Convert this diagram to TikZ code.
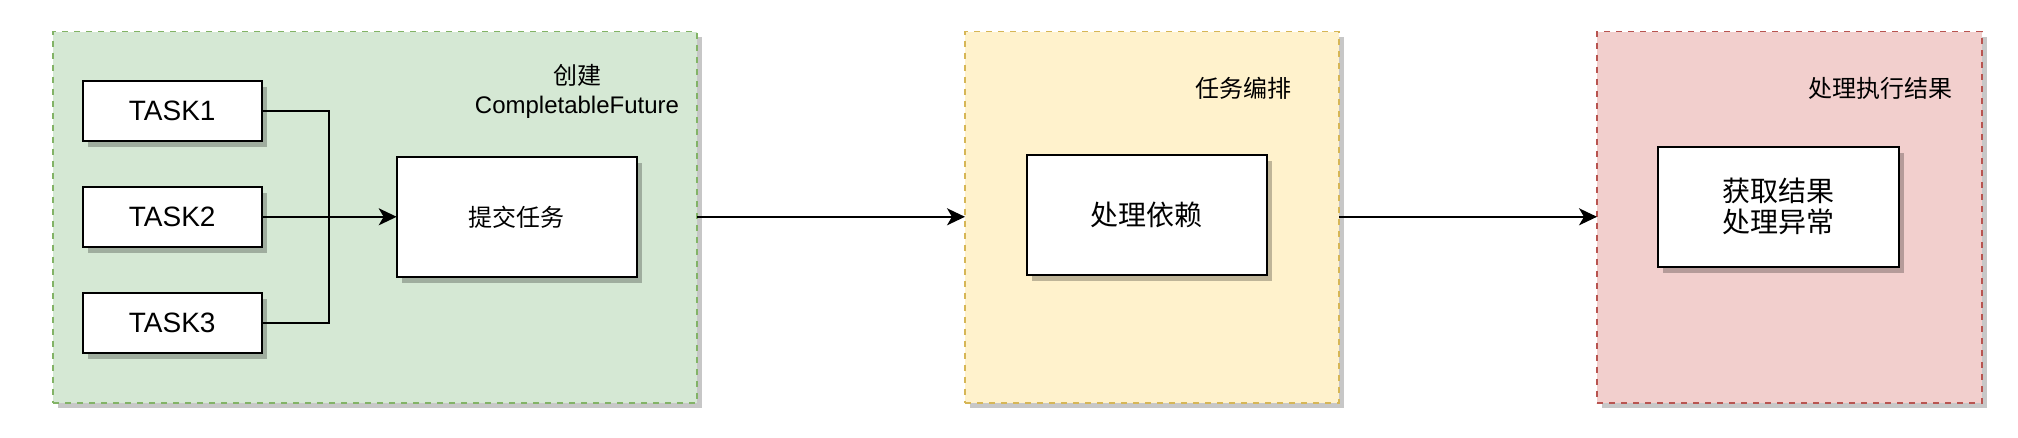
\documentclass[tikz,border=0pt]{standalone}
\usepackage{fontspec}
\setmainfont{Liberation Sans}
\newfontfamily\cjk{Noto Sans CJK SC}
\usetikzlibrary{arrows.meta,shadows}
\begin{document}
\begin{tikzpicture}[x=1pt,y=-1pt,
  container/.style={draw, line width=1.6pt, dash pattern=on 6pt off 6pt, inner sep=0pt, outer sep=0pt,
    drop shadow={shadow xshift=5pt, shadow yshift=-5pt, fill=black, opacity=0.22}},
  box/.style={draw=black, fill=white, line width=2pt, inner sep=0pt, outer sep=0pt,
    drop shadow={shadow xshift=5pt, shadow yshift=-6pt, fill=black, opacity=0.25}},
  lbl/.style={align=center, inner sep=0pt},
  conn/.style={line width=2pt},
  arr/.style={line width=2pt, -{Stealth[length=18pt, width=17pt, inset=5pt]}}
]
\useasboundingbox (0,0) rectangle (2018,438);

% containers
\node[container, draw=green!45!black!55!white, draw={rgb,255:red,130;green,179;blue,102}, fill={rgb,255:red,213;green,232;blue,212},
  minimum width=644pt, minimum height=371pt] (grp1) at (375,217.2) {};
\node[container, draw={rgb,255:red,214;green,182;blue,86}, fill={rgb,255:red,255;green,242;blue,204},
  minimum width=374pt, minimum height=371pt] (grp2) at (1152,217.2) {};
\node[container, draw={rgb,255:red,184;green,84;blue,80}, fill={rgb,255:red,242;green,207;blue,205},
  minimum width=385pt, minimum height=371pt] (grp3) at (1789.5,217.2) {};

% container labels
\node[lbl, font=\fontsize{24}{29}\selectfont] (lbl1) at (577,91.5) {{\cjk 创建}\\CompletableFuture};
\node[lbl, font=\fontsize{24}{29}\selectfont\cjk] (lbl2) at (1243,88) {任务编排};
\node[lbl, font=\fontsize{24}{29}\selectfont\cjk] (lbl3) at (1880,88) {处理执行结果};

% tasks
\node[box, minimum width=179pt, minimum height=60pt, font=\fontsize{28}{31}\selectfont] (t1) at (172.2,110.6) {TASK1};
\node[box, minimum width=179pt, minimum height=60pt, font=\fontsize{28}{31}\selectfont] (t2) at (172.2,216.8) {TASK2};
\node[box, minimum width=179pt, minimum height=60pt, font=\fontsize{28}{31}\selectfont] (t3) at (172.2,322.7) {TASK3};

\node[box, minimum width=240pt, minimum height=120pt, font=\fontsize{24}{29}\selectfont\cjk] (submit) at (516.7,216.8) {提交任务};
\node[box, minimum width=240pt, minimum height=120pt, font=\fontsize{28}{31}\selectfont\cjk] (dep) at (1146.8,214.8) {处理依赖};
\node[box, minimum width=241pt, minimum height=120pt, font=\fontsize{28}{31}\selectfont\cjk, align=center] (res) at (1778.5,206.8) {获取结果\\处理异常};

\coordinate (j) at (328.7,216.8);

% connectors
\draw[conn] (t1.east) -| (j);
\draw[conn] (t3.east) -| (j);
\draw[arr] (t2.east) -- (submit.west);
\draw[arr] (grp1.east |- submit.west) -- (grp2.west |- submit.west);
\draw[arr] (grp2.east |- submit.west) -- (grp3.west |- submit.west);
\end{tikzpicture}
\end{document}
